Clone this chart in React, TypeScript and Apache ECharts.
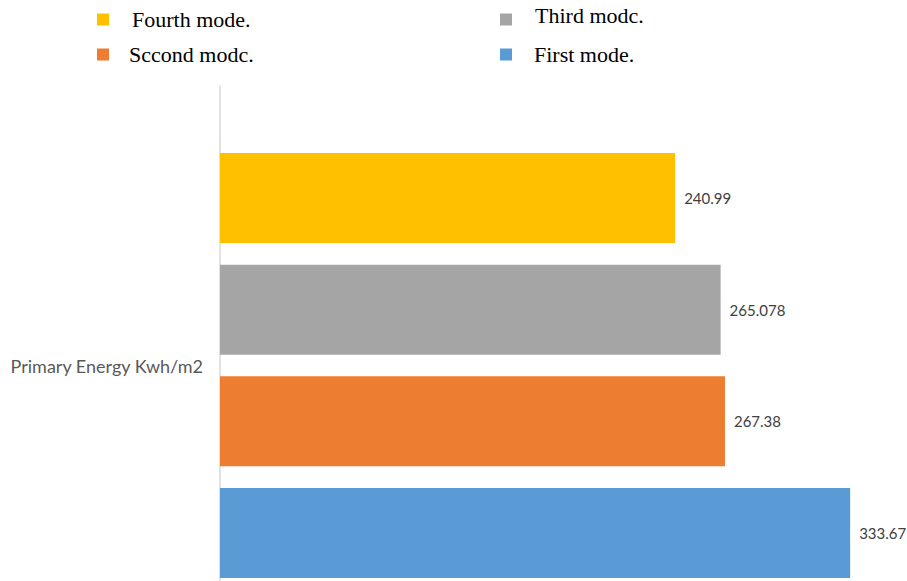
import React, { useEffect, useRef } from "react";
import * as echarts from "echarts";

// Single category, one bar per operating mode
const categories = ["Primary Energy Kwh/m2"];
const modeNames = ["Fourth mode.", "Third modc.", "Sccond modc.", "First mode."];
const modeValues = [240.99, 265.078, 267.38, 333.67];
const modeLabels = ["240.99", "265.078", "267.38", "333.67"];
const modeColors = ["#FFC000", "#A5A5A5", "#ED7D31", "#5B9BD5"];

// Legend placement for each mode: [left, top, gap between swatch and text, text lift]
const legendSpots = [
  [97, 8.5, 18, 0],
  [500, 8.5, 18, 4],
  [97, 43.5, 15, 0],
  [500, 43.5, 17, 0],
];

export default function App() {
  const ref = useRef<HTMLDivElement>(null);

  useEffect(() => {
    if (!ref.current) return;
    const chart = echarts.init(ref.current, null, { renderer: "svg" });

    const series = modeNames.map((name, i) => ({
      name,
      type: "bar",
      data: [modeValues[i]],
      barWidth: 90,
      barGap: "24%",
      itemStyle: { color: modeColors[i] },
      label: {
        show: true,
        position: "right",
        distance: 9,
        formatter: () => modeLabels[i],
        color: "#404040",
        fontFamily: "Lato",
        fontSize: 15,
      },
    }));

    const legends = modeNames.map((name, i) => {
      const [left, top, gap, lift] = legendSpots[i];
      const lineH = 22 + lift * 2;
      return {
        data: [name],
        left,
        top: top - lift,
        padding: 0,
        itemWidth: 12,
        itemHeight: 12,
        icon: "rect",
        selectedMode: false,
        itemStyle: { color: modeColors[i] },
        formatter: (n: string) => `{t|${n}}{s| }`,
        textStyle: {
          fontFamily: "Liberation Serif",
          fontSize: 22,
          color: "#000000",
          padding: [0, 0, 0, gap],
          rich: {
            t: {
              fontFamily: "Liberation Serif",
              fontSize: 22,
              lineHeight: 22,
              color: "#000000",
              verticalAlign: "top",
            },
            s: { fontSize: 2, lineHeight: lineH },
          },
        },
      };
    });

    chart.setOption({
      animation: false,
      backgroundColor: "#ffffff",
      legend: legends,
      grid: {
        left: 220,
        right: 26,
        top: 86,
        bottom: -64,
        outerBoundsMode: "none",
        containLabel: false,
      },
      xAxis: {
        type: "value",
        min: 0,
        max: 350,
        axisLine: { show: false },
        axisTick: { show: false },
        axisLabel: { show: false },
        splitLine: { show: false },
      },
      yAxis: {
        type: "category",
        data: categories,
        inverse: true,
        axisLine: { show: true, lineStyle: { color: "#D9D9D9", width: 1.5 } },
        axisTick: { show: false },
        axisLabel: {
          margin: 17,
          color: "#595959",
          fontFamily: "Lato",
          fontSize: 18,
        },
      },
      series,
    });

    return () => chart.dispose();
  }, []);

  return (
    <div
      ref={ref}
      style={{ position: "fixed", left: 0, top: 0, width: 907, height: 581 }}
    />
  );
}
